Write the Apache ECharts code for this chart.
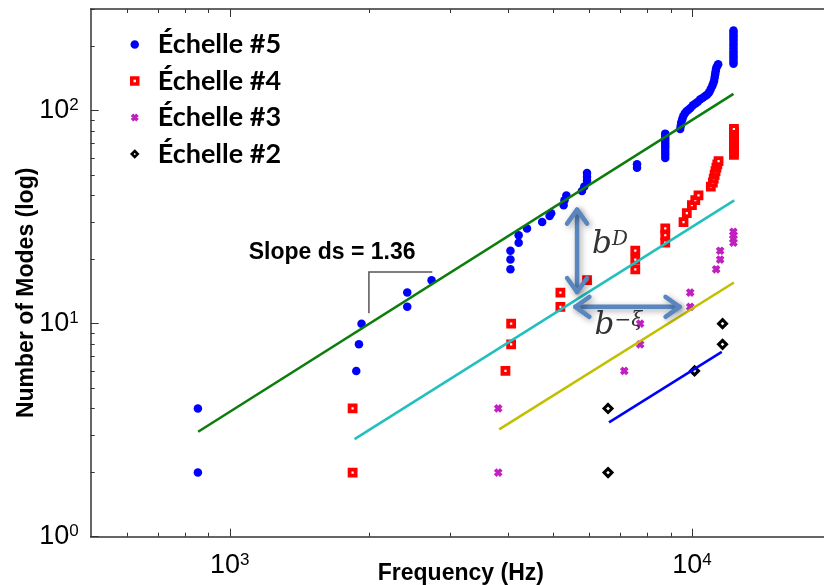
<!DOCTYPE html>
<html><head><meta charset="utf-8">
<script src="https://cdn.jsdelivr.net/npm/echarts@6/dist/echarts.min.js"></script>
<style>html,body{margin:0;padding:0;background:#fff}#c{width:824px;height:585px}</style>
</head><body><div id="c"></div>
<script>
// ---- tick labels / ticks ----
const xTickLabels = [1000, 10000];
const yTickLabels = [1, 10, 100];
const xMinorTicks = [600,700,800,900,2000,3000,4000,5000,6000,7000,8000,9000];
const yMinorTicks = [2,3,4,5,6,7,8,9,20,30,40,50,60,70,80,90,200,300];
const seriesNames = ['Échelle #5','Échelle #4','Échelle #3','Échelle #2'];

// ---- data: [frequency Hz, number of modes] ----
const echelle5 = [
 [853,2],[853,4],
 [1878,6],[1903,8],[1928,10],
 [2421,12],[2421,14],[2733,16],
 [4049,18],[4049,20],[4049,22],[4218,24],[4218,26],[4397,28],[4742,30],[4920,32],[4960,33],
 [5278,36],[5300,38],[5350,40],[5782,42],[5850,44],[5930,47],[5930,49],[5930,51],
 [7608,54],[7608,56],
 [8757,60],[8757,62],[8757,64],[8757,66],[8757,68],[8757,70],[8757,72],[8757,74],[8757,76],[8757,78],
 [9434,82],[9460,85],[9483,88],[9530,91],[9580,94],[9650,97],[9727,99],[9830,101],[9930,103],[10050,106],
 [10180,108],[10300,110],[10430,113],[10560,115],[10690,117],[10800,119],[10900,122],[10980,126],[11060,130],
 [11120,134],[11170,138],[11200,143],[11230,148],[11260,153],[11285,158],[11340,162],[11400,165],
 [12303,166],[12303,170],[12303,175],[12303,180],[12303,185],[12303,190],[12303,196],[12303,202],
 [12303,208],[12303,214],[12303,220],[12303,226],[12303,232],[12303,238]
];
const echelle4 = [
 [1844,2],[1844,4],[3949,6],[4063,8],[4063,10],[5193,12],[5193,14],[5930,16],
 [7542,18],[7542,20],[7542,22],[8757,24],[8757,26],[8757,28],[9592,30],[9750,33],[10000,36],[10170,38],[10335,40],
 [10990,44],[11100,46],[11150,48],[11200,50],[11250,52],[11300,54],[11350,56],[11420,58],
 [12330,62],[12330,64],[12330,66],[12330,68],[12330,70],[12330,72],[12330,74],[12330,76],[12330,78],[12330,80],[12330,82]
];
const echelle3 = [
 [3809,2],[3809,4],[7140,6],[7728,8],[7728,10],[9916,12],[9916,14],[11285,18],[11512,20],[11512,22],
 [12300,24],[12300,25],[12300,26],[12300,27]
];
const echelle2 = [[6585,2],[6585,4],[10132,6],[11650,8],[11650,10]];

// fitted power-law lines (end points)
const fit5 = [[854,3.11],[12303,119.9]];
const fit4 = [[1862,2.87],[12350,37.9]];
const fit3 = [[3828,3.19],[12330,15.6]];
const fit2 = [[6616,3.44],[11605,7.37]];

// annotation anchors (data space)
const slopeText = {pos:[1099,21.5], text:'Slope ds = 1.36'};
const slopeBracket = [[2000,11.2],[2000,17.5],[2743,17.5]];
const arrowV = [[5643,34.3],[5643,14.08]];
const arrowH = [[5596,12],[9402,12]];
const bDText = [6080,23.3];
const bXiText = [6156,9.72];

const axisColor = '#333';
const labelRich = {
  b:{fontSize:27, fontFamily:'Liberation Sans', color:'#000'},
  s:{fontSize:17, fontFamily:'Liberation Sans', color:'#000', verticalAlign:'top', lineHeight:7}
};
const expFmt = v => '{b|10}{s|' + Math.round(Math.log10(v)) + '}';

function xAx(pos, major, withLabel){
  return {
    type:'log', logBase:10, min:500, max:20000, position:pos, gridIndex:0,
    axisLine:{show:major, onZero:false, lineStyle:{color:axisColor, width:1.5}},
    axisTick:{show:true, inside:true, length: major?8:4, customValues: major?xTickLabels:xMinorTicks, lineStyle:{color:axisColor,width:1}},
    axisLabel:{show:withLabel, customValues:xTickLabels, formatter:expFmt, rich:labelRich, margin:15},
    splitLine:{show:false}, minorTick:{show:false}
  };
}
function yAx(major, withLabel){
  return {
    type:'log', logBase:10, min:1, max:300, position:'left', gridIndex:0,
    axisLine:{show:major, onZero:false, lineStyle:{color:axisColor, width:1.5}},
    axisTick:{show:true, inside:true, length: major?8:4, customValues: major?yTickLabels:yMinorTicks, lineStyle:{color:axisColor,width:1}},
    axisLabel:{show:withLabel, customValues:yTickLabels, formatter:expFmt, rich:labelRich, margin:12},
    splitLine:{show:false}, minorTick:{show:false}
  };
}

const xMain = xAx('bottom', true, true);
xMain.name = 'Frequency (Hz)';
xMain.nameLocation = 'middle';
xMain.nameGap = 25;
xMain.nameMoveOverlap = false;
xMain.nameTextStyle = {fontSize:23, fontWeight:'bold', fontFamily:'Liberation Sans', color:'#000'};
const yMain = yAx(true, true);
yMain.name = 'Number of Modes (log)';
yMain.nameLocation = 'middle';
yMain.nameGap = 53;
yMain.nameMoveOverlap = false;
yMain.nameTextStyle = {fontSize:23, fontWeight:'bold', fontFamily:'Liberation Sans', color:'#000', padding:[0,40,0,0]};

const crossPath = 'path://M0,2.5 L2.5,0 L5,2.5 L7.5,0 L10,2.5 L7.5,5 L10,7.5 L7.5,10 L5,7.5 L2.5,10 L0,7.5 L2.5,5 Z';

function fitLine(data, color){
  return {type:'line', data:data, showSymbol:false, symbol:'none', z:5, silent:true,
    lineStyle:{color:color, width:2.5, opacity:1}, xAxisIndex:0, yAxisIndex:0};
}

const option = {
  animation:false,
  backgroundColor:'#fff',
  grid:{left:90.7, top:9, right:-7, bottom:48.3, containLabel:false, outerBoundsMode:'none'},
  xAxis:[xMain, xAx('bottom',false,false), xAx('top',true,false), xAx('top',false,false)],
  yAxis:[yMain, yAx(false,false)],
  legend:{
    orient:'vertical', left:125, top:26, itemWidth:6, itemHeight:6, itemGap:9.5,
    textStyle:{fontFamily:'Lato', fontWeight:'bold', fontSize:27, lineHeight:27, color:'#000', padding:[0,0,0,15]},
    data:[
      {name:seriesNames[0], itemStyle:{borderWidth:2.5, borderColor:'#0000ff', opacity:1}},
      {name:seriesNames[1], itemStyle:{borderWidth:3.5, borderColor:'#ff0000', opacity:1}},
      {name:seriesNames[2], itemStyle:{borderWidth:1.5, borderColor:'#c020c0', opacity:1}},
      {name:seriesNames[3], itemStyle:{borderWidth:2.5, borderColor:'#000', opacity:1}}
    ]
  },
  series:[
    {name:seriesNames[0], type:'scatter', data:echelle5, symbol:'circle', symbolSize:8.5, z:3,
     itemStyle:{color:'#0000ff', opacity:1}},
    {name:seriesNames[1], type:'scatter', data:echelle4, symbol:'rect', symbolSize:6, z:3,
     itemStyle:{color:'#ffffff', borderColor:'#ff0000', borderWidth:3.8, opacity:1}},
    {name:seriesNames[2], type:'scatter', data:echelle3, symbol:crossPath, symbolSize:7, z:3,
     itemStyle:{color:'#c020c0', borderColor:'#c020c0', borderWidth:1.2, opacity:1}},
    {name:seriesNames[3], type:'scatter', data:echelle2, symbol:'diamond', symbolSize:8, z:3,
     itemStyle:{color:'#ffffff', borderColor:'#000000', borderWidth:3, opacity:1}},
    fitLine(fit5,'#0b7d0b'),
    fitLine(fit4,'#22bfbf'),
    fitLine(fit3,'#c0bf00'),
    fitLine(fit2,'#0000ff')
  ]
};

const chart = echarts.init(document.getElementById('c'), null, {renderer:'canvas'});
chart.setOption(option);

const P = p => chart.convertToPixel({seriesIndex:0}, p);
const arrowColor = '#5a86bf';
const shadow = {shadowBlur:6, shadowColor:'rgba(0,0,0,0.35)', shadowOffsetX:2, shadowOffsetY:2};
function arrowGraphics(a, b){
  const p1 = P(a), p2 = P(b);
  const dx = p2[0]-p1[0], dy = p2[1]-p1[1];
  const L = Math.sqrt(dx*dx+dy*dy), ux = dx/L, uy = dy/L, nx = -uy, ny = ux;
  const hd = 14, hw = 10;
  const head = (tip, sx, sy) => [[tip[0]+sx*hd+nx*hw, tip[1]+sy*hd+ny*hw],[tip[0],tip[1]],[tip[0]+sx*hd-nx*hw, tip[1]+sy*hd-ny*hw]];
  const st = Object.assign({stroke:arrowColor, lineWidth:4.5, lineCap:'round', lineJoin:'round', fill:null}, shadow);
  return [
    {type:'polyline', shape:{points:[p1,p2]}, style:st, z:10},
    {type:'polyline', shape:{points:head(p1, ux, uy)}, style:st, z:10},
    {type:'polyline', shape:{points:head(p2, -ux, -uy)}, style:st, z:10}
  ];
}
const sp = P(slopeText.pos);
const bd = P(bDText), bx = P(bXiText);
const serifRich = {
  b:{fontSize:31, fontFamily:'DejaVu Serif', fontStyle:'italic', fill:'#333'},
  s:{fontSize:20, fontFamily:'DejaVu Serif', fontStyle:'italic', fill:'#333', verticalAlign:'top', lineHeight:10}
};
const graphics = [].concat(
  arrowGraphics(arrowV[0], arrowV[1]),
  arrowGraphics(arrowH[0], arrowH[1]),
  [
    {type:'polyline', shape:{points:slopeBracket.map(P)}, style:{stroke:'#555', lineWidth:1.5, fill:null}, z:10},
    {type:'text', x:sp[0], y:sp[1], style:{text:slopeText.text, font:'bold 23px "Liberation Sans"', fill:'#000', align:'left', verticalAlign:'middle'}, z:10},
    {type:'text', x:bd[0], y:bd[1], style:{text:'{b|b}{s|D}', rich:serifRich, align:'left', verticalAlign:'middle'}, z:10},
    {type:'text', x:bx[0], y:bx[1], style:{text:'{b|b}{s|−ξ}', rich:serifRich, align:'left', verticalAlign:'middle'}, z:10}
  ]
);
chart.setOption({graphic:graphics});
</script></body></html>
